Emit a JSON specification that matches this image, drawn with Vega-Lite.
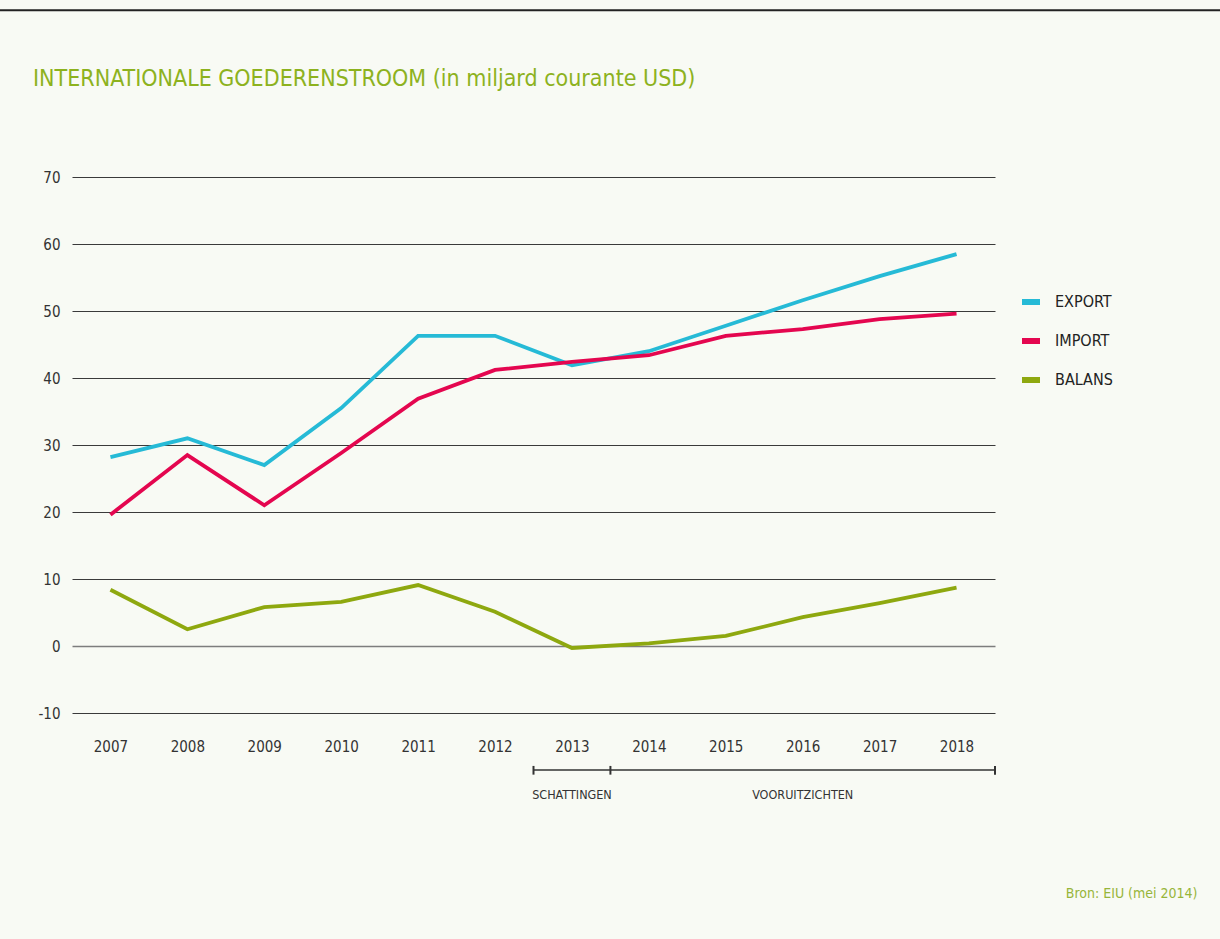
{
  "$schema": "https://vega.github.io/schema/vega-lite/v6.json",
  "autosize": {"type": "none"},
  "width": 923,
  "height": 536,
  "padding": {"left": 72, "top": 177, "right": 225, "bottom": 226},
  "background": "#f8faf4",
  "title": {
    "text": "INTERNATIONALE GOEDERENSTROOM (in miljard courante USD)",
    "anchor": "start",
    "frame": "group",
    "orient": "top",
    "baseline": "alphabetic",
    "offset": 0,
    "dx": -39,
    "dy": 100,
    "font": "DejaVu Sans Condensed, sans-serif",
    "fontSize": 23,
    "fontWeight": "normal",
    "color": "#8db21e"
  },
  "config": {
    "view": {"stroke": null},
    "font": "DejaVu Sans Condensed, sans-serif",
    "axis": {"labelFont": "DejaVu Sans Condensed, sans-serif", "labelColor": "#333333", "labelFontSize": 15}
  },
  "datasets": {
    "trade": [
      {"year": 2007, "series": "EXPORT", "value": 28.2},
      {"year": 2008, "series": "EXPORT", "value": 31.0},
      {"year": 2009, "series": "EXPORT", "value": 27.0},
      {"year": 2010, "series": "EXPORT", "value": 35.5},
      {"year": 2011, "series": "EXPORT", "value": 46.3},
      {"year": 2012, "series": "EXPORT", "value": 46.3},
      {"year": 2013, "series": "EXPORT", "value": 41.9},
      {"year": 2014, "series": "EXPORT", "value": 44.0},
      {"year": 2015, "series": "EXPORT", "value": 47.8},
      {"year": 2016, "series": "EXPORT", "value": 51.6},
      {"year": 2017, "series": "EXPORT", "value": 55.2},
      {"year": 2018, "series": "EXPORT", "value": 58.5},
      {"year": 2007, "series": "IMPORT", "value": 19.6},
      {"year": 2008, "series": "IMPORT", "value": 28.5},
      {"year": 2009, "series": "IMPORT", "value": 21.0},
      {"year": 2010, "series": "IMPORT", "value": 28.8},
      {"year": 2011, "series": "IMPORT", "value": 36.9},
      {"year": 2012, "series": "IMPORT", "value": 41.2},
      {"year": 2013, "series": "IMPORT", "value": 42.4},
      {"year": 2014, "series": "IMPORT", "value": 43.4},
      {"year": 2015, "series": "IMPORT", "value": 46.3},
      {"year": 2016, "series": "IMPORT", "value": 47.3},
      {"year": 2017, "series": "IMPORT", "value": 48.8},
      {"year": 2018, "series": "IMPORT", "value": 49.6},
      {"year": 2007, "series": "BALANS", "value": 8.4},
      {"year": 2008, "series": "BALANS", "value": 2.5},
      {"year": 2009, "series": "BALANS", "value": 5.8},
      {"year": 2010, "series": "BALANS", "value": 6.6},
      {"year": 2011, "series": "BALANS", "value": 9.1},
      {"year": 2012, "series": "BALANS", "value": 5.1},
      {"year": 2013, "series": "BALANS", "value": -0.3},
      {"year": 2014, "series": "BALANS", "value": 0.4},
      {"year": 2015, "series": "BALANS", "value": 1.5},
      {"year": 2016, "series": "BALANS", "value": 4.3},
      {"year": 2017, "series": "BALANS", "value": 6.4},
      {"year": 2018, "series": "BALANS", "value": 8.7}
    ],
    "periods": [
      {"period": "SCHATTINGEN", "start": 2012.5, "end": 2013.5, "mid": 2013},
      {"period": "VOORUITZICHTEN", "start": 2013.5, "end": 2018.5, "mid": 2016}
    ],
    "bounds": [
      {"edge": 2012.5},
      {"edge": 2013.5},
      {"edge": 2018.5}
    ]
  },
  "layer": [
    {
      "data": {"name": "trade"},
      "mark": {"type": "line", "strokeWidth": 3.8, "clip": false},
      "encoding": {
        "x": {
          "field": "year",
          "type": "quantitative",
          "scale": {"domain": [2006.5, 2018.5], "nice": false, "zero": false},
          "axis": {
            "values": [2007, 2008, 2009, 2010, 2011, 2012, 2013, 2014, 2015, 2016, 2017, 2018],
            "format": "d",
            "grid": false,
            "ticks": false,
            "domain": false,
            "labelPadding": 26,
            "title": "Bron: EIU (mei 2014)",
            "titleFont": "DejaVu Sans Condensed, sans-serif",
            "titleFontSize": 14,
            "titleFontWeight": "normal",
            "titleColor": "#97b53a",
            "titleAnchor": null,
            "titleAlign": "right",
            "titleBaseline": "alphabetic",
            "titleX": 1125,
            "titleY": 184
          }
        },
        "y": {
          "field": "value",
          "type": "quantitative",
          "scale": {"domain": [-10, 70], "nice": false, "zero": false},
          "axis": {
            "values": [-10, 0, 10, 20, 30, 40, 50, 60, 70],
            "labelExpr": "'' + datum.value",
            "title": null,
            "ticks": false,
            "domain": false,
            "labelPadding": 12,
            "gridColor": {"condition": {"test": "datum.value === 0", "value": "#7d7d7d"}, "value": "#3a3a3a"},
            "gridWidth": {"condition": {"test": "datum.value === 0", "value": 1.5}, "value": 1},
            "gridOpacity": 1
          }
        },
        "color": {
          "field": "series",
          "type": "nominal",
          "scale": {"domain": ["EXPORT", "IMPORT", "BALANS"], "range": ["#26bad6", "#e4064f", "#8ea80f"]},
          "legend": {
            "orient": "none",
            "legendX": 947,
            "legendY": 113,
            "title": null,
            "padding": 0,
            "symbolType": "stroke",
            "symbolSize": 324,
            "symbolStrokeWidth": 6,
            "labelFont": "DejaVu Sans Condensed, sans-serif",
            "labelFontSize": 16,
            "labelColor": "#222222",
            "labelOffset": 12,
            "rowPadding": 15
          }
        }
      }
    },
    {
      "data": {"name": "periods"},
      "mark": {"type": "rule", "color": "#333333", "strokeWidth": 1.5, "clip": false},
      "encoding": {
        "x": {"field": "start", "type": "quantitative"},
        "x2": {"field": "end"},
        "y": {"datum": -18.5}
      }
    },
    {
      "data": {"name": "bounds"},
      "mark": {"type": "rule", "color": "#333333", "strokeWidth": 2, "clip": false},
      "encoding": {
        "x": {"field": "edge", "type": "quantitative"},
        "y": {"datum": -17.9},
        "y2": {"datum": -19.2}
      }
    },
    {
      "data": {"name": "periods"},
      "mark": {"type": "text", "color": "#333333", "font": "DejaVu Sans Condensed, sans-serif", "fontSize": 12.5, "baseline": "alphabetic", "align": "center", "clip": false},
      "encoding": {
        "x": {"field": "mid", "type": "quantitative"},
        "y": {"datum": -22.8},
        "text": {"field": "period"}
      }
    },
    {
      "data": {"values": [{}]},
      "mark": {"type": "rule", "color": "#222222", "strokeWidth": 2, "clip": false},
      "encoding": {
        "x": {"datum": 2005.55},
        "x2": {"datum": 2021.5},
        "y": {"datum": 94.9}
      }
    }
  ]
}
